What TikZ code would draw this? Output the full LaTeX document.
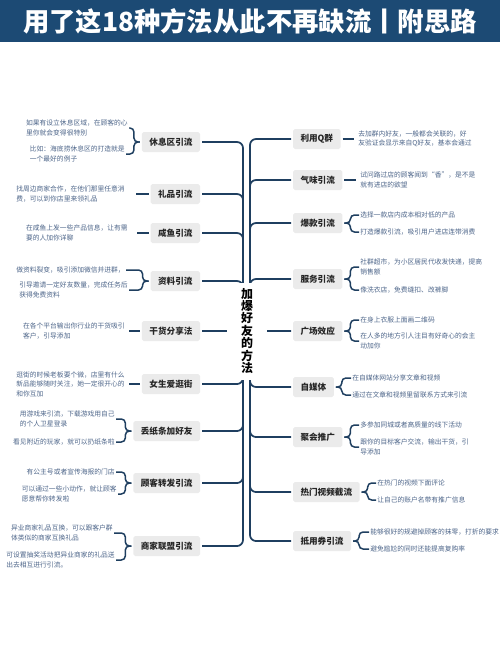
\documentclass[tikz,border=0pt]{standalone}
\usepackage{fontspec}
\setmainfont{Noto Sans CJK SC}
\usetikzlibrary{backgrounds}
\definecolor{barblue}{HTML}{1C4A74}
\definecolor{linenavy}{HTML}{1F3F60}
\definecolor{boxgray}{HTML}{EBEBEB}
\definecolor{leafblue}{HTML}{4D6589}

\begin{document}
\begin{tikzpicture}[
  x=0.2mm,y=-0.2mm,
  topic/.style={fill=boxgray,rounded corners=1pt,text=black!85,font=\fontsize{4.9}{5.5}\selectfont\bfseries,
    minimum height=4mm,inner xsep=1.5mm,inner ysep=0pt,outer sep=0.4mm},
  leaf/.style={align=left,text=leafblue,font=\fontsize{3.85}{5.4}\selectfont,inner sep=0.2mm},
  root/.style={fill=white,align=center,font=\fontsize{6.8}{7.1}\selectfont\bfseries,
    minimum width=8mm,minimum height=19.4mm,inner sep=0pt},
  branch/.style={draw=linenavy,line width=1pt,rounded corners=1.2mm},
  brace/.style={draw=linenavy,line width=0.85pt,rounded corners=0.8mm},
  stub/.style={draw=linenavy,line width=0.85pt,shorten >=0.6mm}
]
\useasboundingbox (0,0) rectangle (500,666);
% title
\fill[barblue] (0,0) rectangle (500,42);
\node[text=white,font=\fontsize{15}{16}\selectfont\bfseries] (title) at (250,21) {用了这18种方法从此不再缺流丨附思路};

\node[root] (root) at (247,331) {加\\爆\\好\\友\\的\\方\\法};

% left topics
\node[topic,anchor=east] (m1) at (202,142) {休息区引流};
\node[topic,anchor=east] (m2) at (202,194) {礼品引流};
\node[topic,anchor=east] (m3) at (202,233) {咸鱼引流};
\node[topic,anchor=east] (m4) at (202,281) {资料引流};
\node[topic,anchor=east] (m5) at (202,331) {干货分享法};
\node[topic,anchor=east] (m6) at (202,384) {女生爱逛街};
\node[topic,anchor=east] (m7) at (202,431) {丢纸条加好友};
\node[topic,anchor=east] (m8) at (202,483) {顾客转发引流};
\node[topic,anchor=east] (m9) at (202,546) {商家联盟引流};

% right topics
\node[topic,anchor=west] (r1) at (291,139) {利用Q群};
\node[topic,anchor=west] (r2) at (291,180) {气味引流};
\node[topic,anchor=west] (r3) at (291,223) {爆款引流};
\node[topic,anchor=west] (r4) at (291,279) {服务引流};
\node[topic,anchor=west] (r5) at (291,331) {广场效应};
\node[topic,anchor=west] (r6) at (291,387) {自媒体};
\node[topic,anchor=west] (r7) at (291,437) {聚会推广};
\node[topic,anchor=west] (r8) at (291,492) {热门视频截流};
\node[topic,anchor=west] (r9) at (291,541) {抵用券引流};

% left leaves
\node[leaf,anchor=east] (l1a) at (129,128) {如果有设立休息区域，在顾客的心\\里你就会变得很特别};
\node[leaf,anchor=east] (l1b) at (126,154) {比如：海底捞休息区的打造就是\\一个最好的例子};
\node[leaf,anchor=east] (l2) at (126,194) {找周边商家合作，在他们那里任意消\\费，可以到你店里来领礼品};
\node[leaf,anchor=east] (l3) at (129,233) {在咸鱼上发一些产品信息，让有需\\要的人加你详聊};
\node[leaf,anchor=east] (l4a) at (126,270) {做资料裂变，吸引添加微信并进群，};
\node[leaf,anchor=east] (l4b) at (129,290) {引导邀请一定好友数量，完成任务后\\获得免费资料};
\node[leaf,anchor=east] (l5) at (126,331) {在各个平台输出你行业的干货吸引\\客户，引导添加};
\node[leaf,anchor=east] (l6) at (126,384) {逛街的时候老板要个微，店里有什么\\新品能够随时关注，她一定很开心的\\和你互加};
\node[leaf,anchor=east] (l7a) at (116,419) {用游戏来引流，下载游戏用自己\\的个人卫星登录};
\node[leaf,anchor=east] (l7b) at (116,442) {看见附近的玩家，就可以扔纸条啦};
\node[leaf,anchor=east] (l8a) at (116,472) {有公主号或者宣传海报的门店};
\node[leaf,anchor=east] (l8b) at (118,494) {可以通过一些小动作，就让顾客\\愿意帮你转发啦};
\node[leaf,anchor=east] (l9a) at (114,533) {异业商家礼品互换，可以跟客户群\\体类似的商家互换礼品};
\node[leaf,anchor=east] (l9b) at (116,560) {可设置抽奖活动把异业商家的礼品送\\出去相互进行引流。};

% right leaves
\node[leaf,anchor=west] (k1) at (357,139) {去加群内好友，一般都会关联的，好\\友验证会显示来自Q好友，基本会通过};
\node[leaf,anchor=west] (k2) at (359,180) {试问路过店的顾客闻到“香”，是不是\\就有进店的欲望};
\node[leaf,anchor=west] (k3a) at (359,215) {选择一款店内成本相对低的产品};
\node[leaf,anchor=west] (k3b) at (359,232) {打造爆款引流，吸引用户进店连带消费};
\node[leaf,anchor=west] (k4a) at (359,267) {社群超市，为小区居民代收发快递，提高\\销售额};
\node[leaf,anchor=west] (k4b) at (359,290) {像洗衣店，免费缝扣、改裤脚};
\node[leaf,anchor=west] (k5a) at (359,320) {在身上衣服上面画二维码};
\node[leaf,anchor=west] (k5b) at (359,341) {在人多的地方引人注目有好奇心的会主\\动加你};
\node[leaf,anchor=west] (k6a) at (351,378) {在自媒体网站分享文章和视频};
\node[leaf,anchor=west] (k6b) at (351,395) {通过在文章和视频里留联系方式来引流};
\node[leaf,anchor=west] (k7a) at (359,425) {多参加同城或者高质量的线下活动};
\node[leaf,anchor=west] (k7b) at (359,447) {跟你的目标客户交流，输出干货，引\\导添加};
\node[leaf,anchor=west] (k8a) at (376,483) {在热门的视频下面评论};
\node[leaf,anchor=west] (k8b) at (376,500) {让自己的账户名带有推广信息};
\node[leaf,anchor=west] (k9a) at (369,532) {能够很好的规避掉顾客的抹零，打折的要求};
\node[leaf,anchor=west] (k9b) at (369,549) {避免尴尬的同时还能提高复购率};

% trunk branches
\begin{pgfonlayer}{background}
\foreach \m in {m1,m2,m3,m4,m5,m6,m7,m8,m9}
  \draw[branch] (\m.east) -| ([xshift=-0.8mm]root.center);
\foreach \m in {r1,r2,r3,r4,r5,r6,r7,r8,r9}
  \draw[branch] (\m.west) -| ([xshift=0.6mm]root.center);
\end{pgfonlayer}

% braces and stubs
\foreach \m/\k in {m1/l1a,m1/l1b,m4/l4a,m4/l4b,m7/l7a,m7/l7b,m8/l8a,m8/l8b,m9/l9a,m9/l9b}
  \draw[brace] (\m.west) -- ++(-6,0) |- (\k.east);
\foreach \m/\k in {r3/k3a,r3/k3b,r4/k4a,r4/k4b,r5/k5a,r5/k5b,r6/k6a,r6/k6b,r7/k7a,r7/k7b,r8/k8a,r8/k8b,r9/k9a,r9/k9b}
  \draw[brace] (\m.east) -- ++(6,0) |- (\k.west);
\draw[stub,shorten >=2mm] (m2.west) -- (l2.east);
\draw[stub,shorten >=1.6mm] (m3.west) -- (l3.east);
\draw[stub] (m5.west) -- (l5.east);
\draw[stub] (m6.west) -- (l6.east);
\draw[stub] (r1.east) -- (k1.west);
\draw[stub] (r2.east) -- (k2.west);
\end{tikzpicture}
\end{document}
